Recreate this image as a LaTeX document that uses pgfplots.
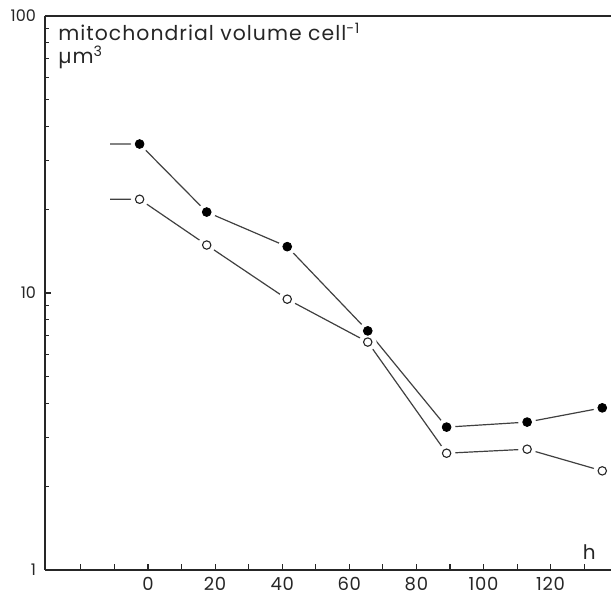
\documentclass[border=0pt]{standalone}
\usepackage{pgfplots}
\pgfplotsset{compat=1.18}
\usepackage{fontspec}
\setmainfont{Poppins}

\definecolor{ink}{gray}{0.15}
\definecolor{trace}{gray}{0.25}

\begin{document}
\begin{tikzpicture}
\useasboundingbox (0pt,0pt) rectangle (305.5pt,300pt);
\begin{axis}[
  at={(22.5pt,15pt)}, anchor=south west,
  scale only axis, width=283pt, height=277pt,
  ymode=log, ymin=1, ymax=100,
  xmin=-30.7, xmax=138,
  axis x line=bottom, axis y line=left,
  x axis line style={-, ink, line width=0.6pt},
  y axis line style={-, ink, line width=0.6pt},
  xtick={-20,-10,...,130},
  xticklabels={,,0,,20,,40,,60,,80,,100,,120,},
  ytick={1,10,100}, yticklabels={1,10,100},
  minor ytick={2,3,4,5,6,7,8,9,20,30,40,50,60,70,80,90},
  major tick length=3pt, minor tick length=2.2pt,
  every tick/.style={ink, line width=0.55pt},
  xtick align=inside, ytick align=inside,
  /pgf/number format/assume math mode=true,
  xticklabel style={font=\fontsize{9}{9}\selectfont\addfontfeature{LetterSpace=4}, text=ink},
  yticklabel style={font=\fontsize{8}{8}\selectfont, text=ink, xshift=-1pt},
  clip=false,
]
% connecting lines (with the short lead-in at the first sample)
\addplot[trace, line width=0.6pt] coordinates {
  (-11.3,34.5) (-2.5,34.5) (17.5,19.6) (41.5,14.7) (65.5,7.3) (89,3.28) (113,3.42) (135.4,3.85)};
\addplot[trace, line width=0.6pt] coordinates {
  (-11.3,21.8) (-2.5,21.8) (17.5,14.9) (41.5,9.5) (65.5,6.65) (89,2.64) (113,2.73) (135.4,2.28)};
% white halos leave the gap between line and symbol
\addplot[white, only marks, mark=*, mark size=4.2pt] coordinates {
  (-2.5,34.5) (17.5,19.6) (41.5,14.7) (65.5,7.3) (89,3.28) (113,3.42) (135.4,3.85)};
\addplot[white, only marks, mark=*, mark size=4.2pt] coordinates {
  (-2.5,21.8) (17.5,14.9) (41.5,9.5) (65.5,6.65) (89,2.64) (113,2.73) (135.4,2.28)};
% symbols
\addplot[only marks, mark=*, mark size=2.2pt, mark options={fill=black, draw=black}] coordinates {
  (-2.5,34.5) (17.5,19.6) (41.5,14.7) (65.5,7.3) (89,3.28) (113,3.42) (135.4,3.85)};
\addplot[only marks, mark=o, mark size=2.1pt, mark options={draw=ink, fill=white, line width=0.55pt}] coordinates {
  (-2.5,21.8) (17.5,14.9) (41.5,9.5) (65.5,6.65) (89,2.64) (113,2.73) (135.4,2.28)};
% top frame line
\draw[ink, line width=0.6pt] (rel axis cs:0,1) -- (rel axis cs:1,1);
% axis captions
\node[anchor=north west, align=left, inner sep=0pt, text=ink,
      font=\fontsize{10.2}{11.5}\selectfont\addfontfeature{LetterSpace=5}]
  at (rel axis cs:0,1) [xshift=6.5pt, yshift=-3.5pt]
  {mitochondrial volume cell\textsuperscript{-1}\\µm\textsuperscript{3}};
\node[anchor=south, inner sep=0pt, text=ink, font=\fontsize{10}{10}\selectfont]
  at (axis cs:131.5,1) [yshift=5pt] {h};
\end{axis}
\end{tikzpicture}
\end{document}
